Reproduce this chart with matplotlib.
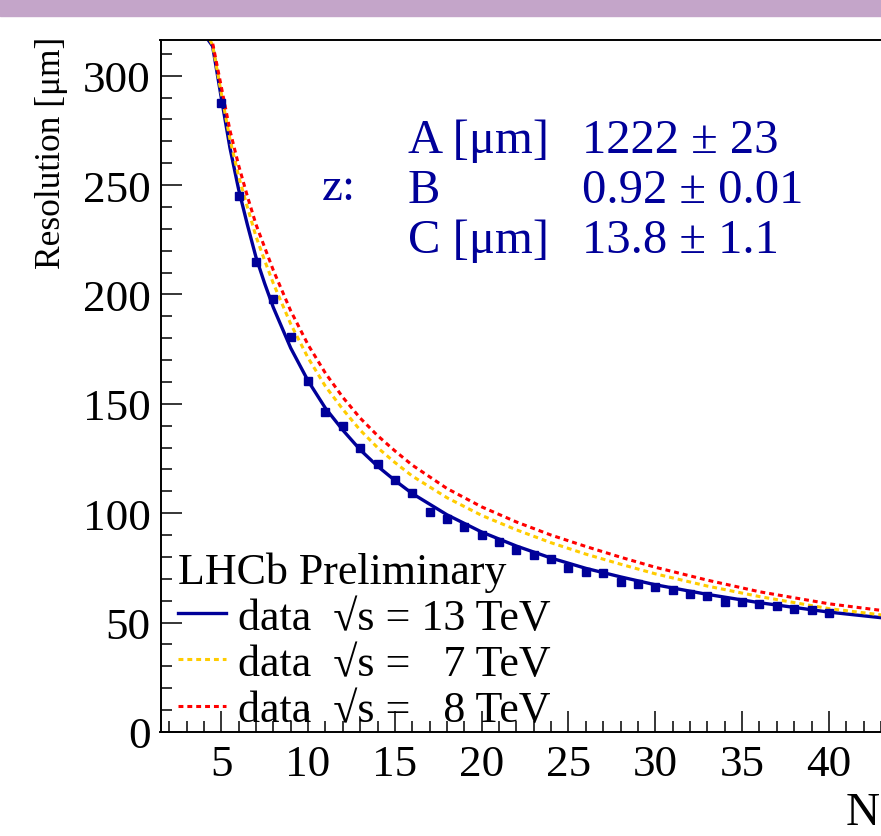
import matplotlib
matplotlib.use('Agg')
from matplotlib import pyplot
from matplotlib.patches import Rectangle
from matplotlib.ticker import MultipleLocator

pyplot.rcParams['font.family'] = ['Liberation Serif', 'DejaVu Serif']

# ---- data ----
# blue squares: 13 TeV data
n_data = list(range(5, 41))
res_data = [287.5, 245.2, 214.7, 197.9, 180.4, 160.3, 146.1, 139.7, 129.8, 122.5,
            115.2, 109.2, 100.7, 97.3, 93.6, 90.2, 86.7, 83.2, 80.9, 79.1,
            74.8, 73.3, 72.7, 68.7, 67.6, 66.1, 65.0, 63.1, 62.0, 59.3,
            59.6, 58.5, 57.4, 56.2, 55.8, 54.2]

# curves (sampled where read)
n_curve = [4.1, 4.5, 5, 5.5, 6, 6.5, 7, 7.5, 8, 9, 10, 11, 12, 13, 14, 15, 16,
           18, 20, 22, 24, 26, 28, 30, 33, 36, 40, 44]
res_13tev = [318, 313.5, 290, 267, 248, 232, 217, 205, 194, 175.5, 160.5, 148,
             138, 129, 121.5, 115, 109, 99.3, 91.4, 85, 79.5, 74.8, 70.9, 67.3,
             62.9, 59.1, 54.8, 51.4]
res_7tev = [320, 314, 292, 271, 254, 240, 226.5, 215.5, 205, 186.5, 171, 158,
            147.5, 138, 130, 123.2, 117, 107.1, 99, 92.4, 86.5, 81.3, 76.7, 72.3,
            66.7, 61.9, 56.4, 52.6]
res_8tev = [322, 315, 295, 275, 259, 245, 232, 221.5, 211, 192.5, 177, 164,
            153, 143.5, 135.5, 128.5, 122, 111.3, 102.9, 96, 90, 84.8, 79.9, 75.3,
            69.4, 64.1, 58.6, 54.6]

fit_names = ['A [\u03bcm]', 'B', 'C [\u03bcm]']
fit_values = ['1222 \u00b1 23', '0.92 \u00b1 0.01', '13.8 \u00b1 1.1']

NAVY = '#000099'
W, H = 881, 837

fig = pyplot.figure(figsize=(W / 100, H / 100), dpi=100)

# purple band of the slide
fig.patches.append(Rectangle((0, 1 - 17 / H), 1, 17 / H, transform=fig.transFigure,
                             color='#C4A5C9', zorder=0))

# the slide crops the frame on the right, so the axes run to the figure edge
ax = fig.add_axes([160.5 / W, 1 - 733 / H, 720.5 / W, 692 / H])

l13, = ax.plot(n_curve, res_13tev, color=NAVY, lw=2.4, label='data  \u221as = 13 TeV')
l7, = ax.plot(n_curve, res_7tev, color='#FFCC00', lw=2.2, dashes=(1.6, 1.3),
              label='data  \u221as =   7 TeV')
l8, = ax.plot(n_curve, res_8tev, color='#FF0000', lw=2.2, dashes=(1.6, 1.3),
              label='data  \u221as =   8 TeV')
ax.plot(n_data, res_data, ls='none', marker='s', ms=6.2, color=NAVY)

ax.set_xlim(1.5, 43.0)
ax.set_ylim(0, 316.3)
ax.spines['right'].set_visible(False)

ax.xaxis.set_major_locator(MultipleLocator(5))
ax.xaxis.set_minor_locator(MultipleLocator(1))
ax.yaxis.set_major_locator(MultipleLocator(50))
ax.yaxis.set_minor_locator(MultipleLocator(10))
ax.tick_params(which='both', direction='in', width=1.1, labelsize=32.5)
ax.tick_params(which='major', length=15)
ax.tick_params(which='minor', length=8)
ax.tick_params(axis='y', pad=7)
ax.tick_params(axis='x', pad=9)
for sp in ax.spines.values():
    sp.set_linewidth(1.4)

fig.text(51 / W, 1 - 37 / H, 'Resolution [\u03bcm]', rotation=90, ha='center', va='top',
         fontsize=25.5)
fig.text(880 / W, 2 / H, 'N', ha='right', va='bottom', fontsize=34)

# fit results
fig.text(322 / W, 1 - 200 / H, 'z:', color=NAVY, fontsize=34, va='baseline')
rows_y = [153, 203, 253]
for name, val, yb in zip(fit_names, fit_values, rows_y):
    fig.text(408 / W, 1 - yb / H, name, color=NAVY, fontsize=35, va='baseline')
    fig.text(582 / W, 1 - yb / H, val, color=NAVY, fontsize=35, va='baseline')

leg = ax.legend(handles=[l13, l7, l8], title='LHCb Preliminary', loc='lower left',
                bbox_to_anchor=(17 / 720.5, 2 / 692), frameon=False, fontsize=31.7,
                title_fontsize=31.7, alignment='left', borderpad=0, borderaxespad=0,
                handlelength=1.1, handletextpad=0.27, labelspacing=0.14)

fig.savefig('out.png', dpi=100)
